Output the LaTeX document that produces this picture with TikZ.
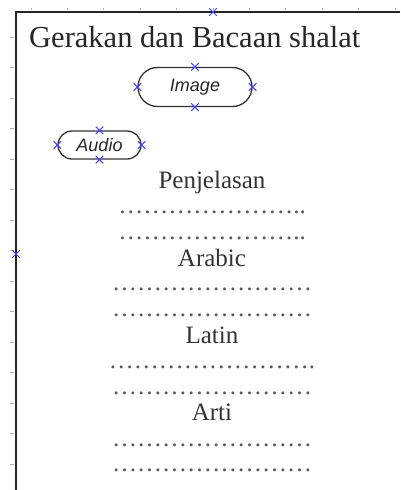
\documentclass[tikz,border=0pt]{standalone}
\usepackage{fontspec}
\setmainfont{Liberation Serif}
\newfontfamily\sansfam{Liberation Sans}
\usetikzlibrary{shapes.misc}
\tikzset{
  frameline/.style={draw=black!85, line width=2pt},
  rulertick/.style={draw=black!30, line width=0.7pt},
  pill/.style={rounded rectangle, draw=black!80, line width=1.3pt, inner sep=0pt,
               font=\sansfam\itshape\fontsize{18}{18}\selectfont, text=black!85},
  handle/.style={cross out, draw=blue!75!white, line width=1pt, minimum size=6.5pt, inner sep=0pt},
  heading/.style={font=\fontsize{25}{25}\selectfont, text=black!80, anchor=base, inner sep=0pt},
  dotrow/.style={font=\fontsize{25}{25}\selectfont, text=black!65, anchor=base, inner sep=0pt},
}
\begin{document}
\begin{tikzpicture}[x=1pt,y=-1pt]
\useasboundingbox (0,0) rectangle (400,490);
% ruler ticks
\foreach \i in {0,...,10} \draw[rulertick] ({31+36.4*\i},8) -- ({31+36.4*\i},10);
\foreach \i in {0,...,14} \draw[rulertick] (10,{37+30.5*\i}) -- (14,{37+30.5*\i});
% frame
\coordinate (tl) at (16,12);
\coordinate (tr) at (400,12);
\coordinate (bl) at (16,490);
\draw[frameline] (tr) -- (tl) -- (bl);
% title
\node[anchor=base west, inner sep=0pt, font=\fontsize{30.5}{30.5}\selectfont, text=black!85] (title) at (29,47) {Gerakan dan Bacaan shalat};
% pills
\node[pill, minimum width=114pt, minimum height=39pt] (image) at (195,87) {Image};
\node[pill, minimum width=83pt, minimum height=28pt] (audio) at (99.5,145) {Audio};
% headings and dotted rows
\node[heading] (pen) at (212,188) {Penjelasan};
\node[dotrow] (d1) at (212,213.5) {…………………..};
\node[dotrow] (d2) at (212,239.5) {…………………..};
\node[heading] (arab) at (212,266) {Arabic};
\node[dotrow] (d3) at (212,290.5) {……………………};
\node[dotrow] (d4) at (212,316.5) {……………………};
\node[heading] (lat) at (212,343) {Latin};
\node[dotrow] (d5) at (212,368.5) {…………………….};
\node[dotrow] (d6) at (212,394.5) {……………………};
\node[heading] (arti) at (212,420) {Arti};
\node[dotrow] (d7) at (212,446.5) {……………………};
\node[dotrow] (d8) at (212,471.5) {……………………};
% selection handles
\node[handle] (h1) at (213,12) {};
\node[handle] (h2) at (16,254) {};
\node[handle] (hi1) at (image.north) {};
\node[handle] (hi2) at (image.south) {};
\node[handle] (hi3) at (image.west) {};
\node[handle] (hi4) at (image.east) {};
\node[handle] (ha1) at (audio.north) {};
\node[handle] (ha2) at (audio.south) {};
\node[handle] (ha3) at (audio.west) {};
\node[handle] (ha4) at (audio.east) {};
\end{tikzpicture}
\end{document}
